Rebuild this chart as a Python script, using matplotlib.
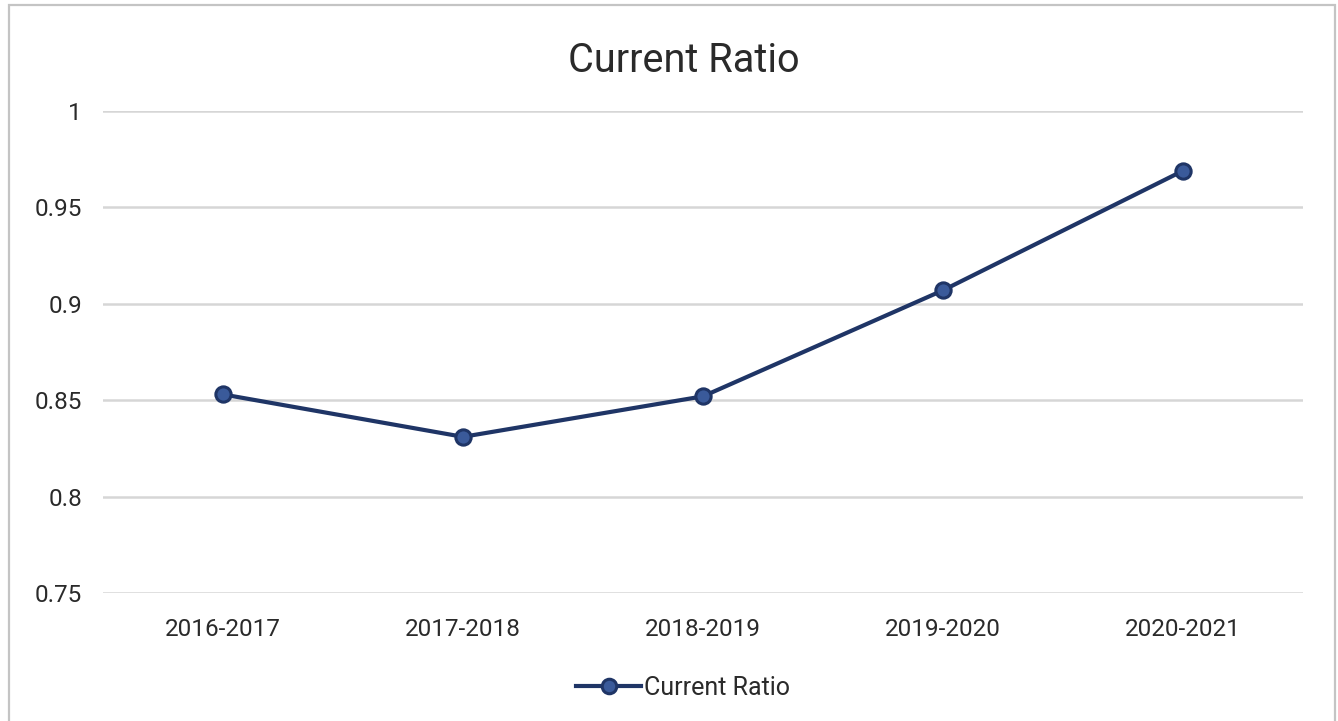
import matplotlib.pyplot as plt
from matplotlib.patches import Rectangle
import numpy as np

plt.rcParams['font.family'] = ['Roboto', 'DejaVu Sans']

# data
years = ['2016-2017', '2017-2018', '2018-2019', '2019-2020', '2020-2021']
current_ratio = [0.853, 0.831, 0.852, 0.907, 0.969]
yticks = [0.75, 0.8, 0.85, 0.9, 0.95, 1.0]
ytick_labels = ['0.75', '0.8', '0.85', '0.9', '0.95', '1']

line_color = '#1f3566'
face_color = '#3a5a9a'
grid_color = '#d6d6d6'
text_color = '#2a2a2a'

fig = plt.figure(figsize=(13.38, 7.21), dpi=100)
W, H = 1338, 721
ax = fig.add_axes([103 / W, 128 / H, 1200 / W, 482 / H])

x = np.arange(len(years)) + 0.5
ax.plot(x, current_ratio, color=line_color, linewidth=3, marker='o',
        markersize=11, markerfacecolor=face_color, markeredgecolor=line_color,
        markeredgewidth=2.2, label='Current Ratio', zorder=3)

ax.set_xlim(0, len(years))
ax.set_ylim(0.75, 1.0)
ax.set_xticks(x)
ax.set_xticklabels(years)
ax.set_yticks(yticks)
ax.set_yticklabels(ytick_labels)
ax.tick_params(axis='both', length=0, labelsize=17.5, colors=text_color)
ax.tick_params(axis='x', pad=18)
ax.tick_params(axis='y', pad=15)
ax.grid(axis='y', color=grid_color, linewidth=1.8)
ax.set_axisbelow(True)
for s in ax.spines.values():
    s.set_visible(False)

fig.text(684 / W, 1 - 61 / H, 'Current Ratio', ha='center', va='center',
         fontsize=28.5, color=text_color)

leg = fig.legend(loc='center', bbox_to_anchor=(683 / W, 1 - 688 / H), frameon=False,
                 fontsize=18, handlelength=2.6, handletextpad=0.1, markerscale=0.95)
for t in leg.get_texts():
    t.set_color(text_color)

# outer chart border
fig.patches.append(Rectangle((9 / W, -0.01), 1326 / W, 1 - 5 / H + 0.01,
                             transform=fig.transFigure, fill=False,
                             edgecolor='#c4c4c4', linewidth=1.6))

fig.savefig('out.png', dpi=100)
